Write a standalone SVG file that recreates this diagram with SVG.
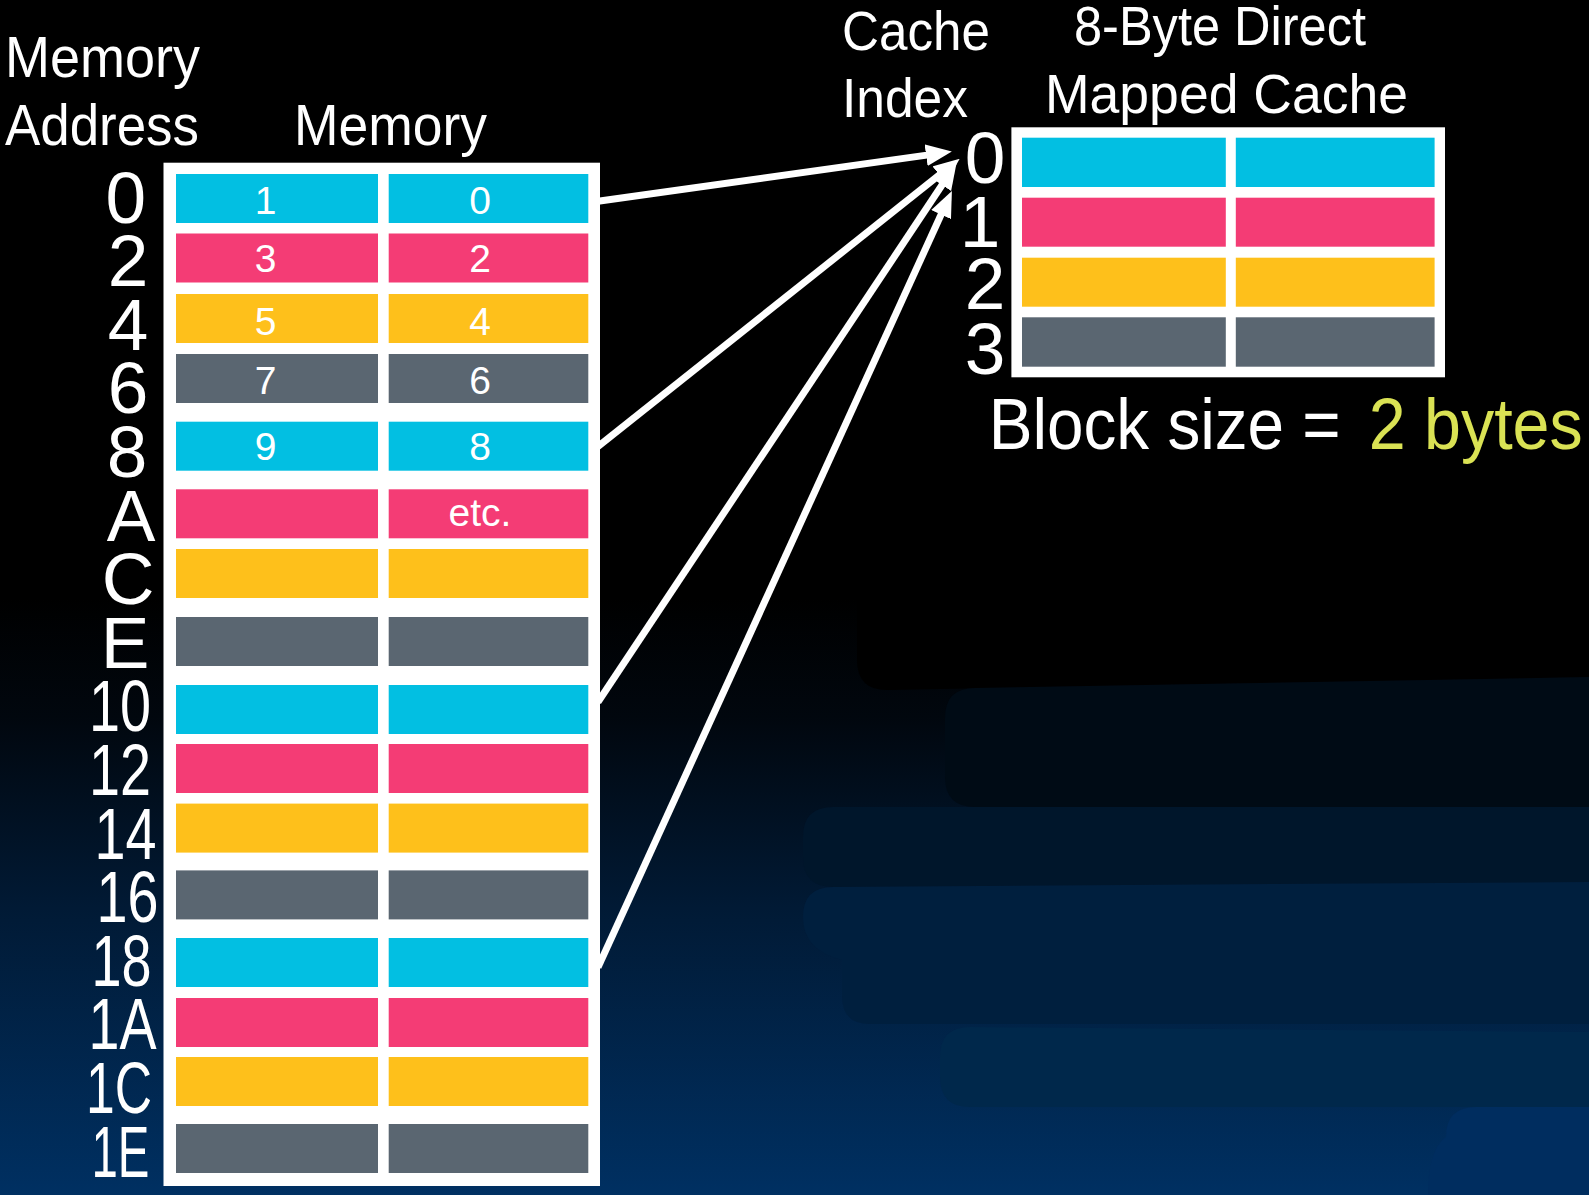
<svg xmlns="http://www.w3.org/2000/svg" width="1589" height="1195" viewBox="0 0 1589 1195">
<defs>
<linearGradient id="bg" x1="0" y1="0" x2="0" y2="1">
<stop offset="0" stop-color="#000000"/>
<stop offset="0.5" stop-color="#000000"/>
<stop offset="0.6" stop-color="#01070e"/>
<stop offset="0.76" stop-color="#011a35"/>
<stop offset="1" stop-color="#003062"/>
</linearGradient>
<marker id="ah" markerUnits="userSpaceOnUse" markerWidth="26" markerHeight="22" viewBox="0 0 24 20" refX="14" refY="10" orient="auto">
<path d="M0,0 L24,10 L0,20 Z" fill="#ffffff"/>
</marker>
<style>
.t{font-family:"Liberation Sans Narrow","Liberation Sans",Arial,sans-serif;fill:#ffffff}
.ttl{font-size:57px}
.adr{font-size:73px;text-anchor:middle}
.num{font-size:39px;text-anchor:middle}
.cy{fill:#02bfe2}
.pk{fill:#f43c75}
.yl{fill:#fec01b}
.gy{fill:#5a6671}
.fr{fill:#ffffff}
.cn{stroke:#ffffff;stroke-width:7;fill:none;marker-end:url(#ah)}
</style>
</defs>
<rect x="0" y="0" width="1589" height="1195" fill="url(#bg)"/>
<g id="bands">
<path d="M857,0 H1589 V677 L887,690 Q857,690 857,660 Z" fill="#000000"/>
<path d="M975,688 L1589,677 V807 H975 Q945,807 945,777 V718 Q945,688 975,688 Z" fill="#000b15"/>
<path d="M833,807 H1589 V887 H833 Q803,887 803,857 V837 Q803,807 833,807 Z" fill="#00162b"/>
<path d="M833,887 L1589,882 V1024 H870 Q842,1024 842,996 V960 Q803,950 803,917 Q803,887 833,887 Z" fill="#001f3e"/>
<path d="M970,1027 L1589,1032 V1107 L970,1107 Q940,1107 940,1077 V1057 Q940,1027 970,1027 Z" fill="#00284b"/>
<path d="M1476,1107 H1589 V1195 H1428 Q1428,1150 1446,1137 Q1446,1107 1476,1107 Z" fill="#002d5f"/>
</g>
<g id="titles">
<text class="t ttl" x="5" y="77" textLength="195" lengthAdjust="spacingAndGlyphs">Memory</text>
<text class="t ttl" x="5" y="145" textLength="194" lengthAdjust="spacingAndGlyphs">Address</text>
<text class="t ttl" x="294" y="145" textLength="193" lengthAdjust="spacingAndGlyphs">Memory</text>
<text class="t" font-size="56" x="842" y="50" textLength="148" lengthAdjust="spacingAndGlyphs">Cache</text>
<text class="t" font-size="56" x="842" y="117" textLength="126" lengthAdjust="spacingAndGlyphs">Index</text>
<text class="t" font-size="56" x="1074" y="45" textLength="292" lengthAdjust="spacingAndGlyphs">8-Byte Direct</text>
<text class="t" font-size="56" x="1045" y="113" textLength="363" lengthAdjust="spacingAndGlyphs">Mapped Cache</text>
</g>
<g id="memory">
<rect class="fr" x="163.5" y="162.7" width="436.5" height="1023.3"/>
<g id="row0"><rect class="cy" x="176" y="174" width="202" height="49"/><rect class="cy" x="388.7" y="174" width="199.6" height="49"/><text class="t num" x="265.7" y="214">1</text><text class="t num" x="480" y="214">0</text></g>
<g id="row2"><rect class="pk" x="176" y="233.5" width="202" height="49"/><rect class="pk" x="388.7" y="233.5" width="199.6" height="49"/><text class="t num" x="265.7" y="272">3</text><text class="t num" x="480" y="272">2</text></g>
<g id="row4"><rect class="yl" x="176" y="294" width="202" height="49"/><rect class="yl" x="388.7" y="294" width="199.6" height="49"/><text class="t num" x="265.7" y="335">5</text><text class="t num" x="480" y="335">4</text></g>
<g id="row6"><rect class="gy" x="176" y="354" width="202" height="49"/><rect class="gy" x="388.7" y="354" width="199.6" height="49"/><text class="t num" x="265.7" y="394">7</text><text class="t num" x="480" y="394">6</text></g>
<g id="row8"><rect class="cy" x="176" y="421.7" width="202" height="49"/><rect class="cy" x="388.7" y="421.7" width="199.6" height="49"/><text class="t num" x="265.7" y="460">9</text><text class="t num" x="480" y="460">8</text></g>
<g id="rowA"><rect class="pk" x="176" y="489.3" width="202" height="49"/><rect class="pk" x="388.7" y="489.3" width="199.6" height="49"/><text class="t num" x="480" y="526">etc.</text></g>
<g id="rowC"><rect class="yl" x="176" y="549" width="202" height="49"/><rect class="yl" x="388.7" y="549" width="199.6" height="49"/></g>
<g id="rowE"><rect class="gy" x="176" y="617" width="202" height="49"/><rect class="gy" x="388.7" y="617" width="199.6" height="49"/></g>
<g id="row10"><rect class="cy" x="176" y="685" width="202" height="49"/><rect class="cy" x="388.7" y="685" width="199.6" height="49"/></g>
<g id="row12"><rect class="pk" x="176" y="744" width="202" height="49"/><rect class="pk" x="388.7" y="744" width="199.6" height="49"/></g>
<g id="row14"><rect class="yl" x="176" y="803.6" width="202" height="49"/><rect class="yl" x="388.7" y="803.6" width="199.6" height="49"/></g>
<g id="row16"><rect class="gy" x="176" y="870.4" width="202" height="49"/><rect class="gy" x="388.7" y="870.4" width="199.6" height="49"/></g>
<g id="row18"><rect class="cy" x="176" y="938" width="202" height="49"/><rect class="cy" x="388.7" y="938" width="199.6" height="49"/></g>
<g id="row1A"><rect class="pk" x="176" y="998" width="202" height="49"/><rect class="pk" x="388.7" y="998" width="199.6" height="49"/></g>
<g id="row1C"><rect class="yl" x="176" y="1057" width="202" height="49"/><rect class="yl" x="388.7" y="1057" width="199.6" height="49"/></g>
<g id="row1E"><rect class="gy" x="176" y="1124" width="202" height="49"/><rect class="gy" x="388.7" y="1124" width="199.6" height="49"/></g>
</g>
<g id="addresses">
<text class="t adr" x="125.7" y="222.5">0</text>
<text class="t adr" x="128" y="286">2</text>
<text class="t adr" x="128" y="349.7">4</text>
<text class="t adr" x="128" y="413.3">6</text>
<text class="t adr" x="127" y="476.9">8</text>
<text class="t adr" x="131" y="540.5">A</text>
<text class="t adr" x="128" y="604.1">C</text>
<text class="t adr" x="125" y="667.7">E</text>
<text class="t adr" x="120" y="731.3" textLength="62" lengthAdjust="spacingAndGlyphs">10</text>
<text class="t adr" x="120" y="794.9" textLength="62" lengthAdjust="spacingAndGlyphs">12</text>
<text class="t adr" x="125.5" y="858.5" textLength="62" lengthAdjust="spacingAndGlyphs">14</text>
<text class="t adr" x="127.5" y="922.1" textLength="62" lengthAdjust="spacingAndGlyphs">16</text>
<text class="t adr" x="121.5" y="985.7" textLength="60" lengthAdjust="spacingAndGlyphs">18</text>
<text class="t adr" x="122.5" y="1049.3" textLength="68" lengthAdjust="spacingAndGlyphs">1A</text>
<text class="t adr" x="119" y="1112.9" textLength="66" lengthAdjust="spacingAndGlyphs">1C</text>
<text class="t adr" x="120.5" y="1176.5" textLength="58" lengthAdjust="spacingAndGlyphs">1E</text>
</g>
<g id="cache">
<rect class="fr" x="1011.4" y="127.3" width="433.6" height="250"/>
<g id="cache0"><rect class="cy" x="1022" y="137.7" width="203.8" height="49.3"/><rect class="cy" x="1235.8" y="137.7" width="198.8" height="49.3"/></g>
<g id="cache1"><rect class="pk" x="1022" y="197.7" width="203.8" height="49"/><rect class="pk" x="1235.8" y="197.7" width="198.8" height="49"/></g>
<g id="cache2"><rect class="yl" x="1022" y="257.7" width="203.8" height="49"/><rect class="yl" x="1235.8" y="257.7" width="198.8" height="49"/></g>
<g id="cache3"><rect class="gy" x="1022" y="317.3" width="203.8" height="49.4"/><rect class="gy" x="1235.8" y="317.3" width="198.8" height="49.4"/></g>
</g>
<g id="cache-index">
<text class="t adr" x="985" y="182.7">0</text>
<text class="t adr" x="980" y="246.7">1</text>
<text class="t adr" x="985" y="308.5">2</text>
<text class="t adr" x="985" y="374">3</text>
</g>
<g id="blocksize">
<text class="t" font-size="73" x="988.7" y="449" textLength="352" lengthAdjust="spacingAndGlyphs">Block size =</text>
<text class="t" font-size="73" x="1368.7" y="449" textLength="214" lengthAdjust="spacingAndGlyphs" style="fill:#dae254">2 bytes</text>
</g>
<g id="connectors">
<line class="cn" x1="598" y1="201.3" x2="941.1" y2="153.1"/>
<line class="cn" x1="598" y1="446.6" x2="951.2" y2="165.5"/>
<line class="cn" x1="598" y1="702" x2="950.5" y2="172.3"/>
<line class="cn" x1="598" y1="967.4" x2="947.4" y2="200.8"/>
</g>
</svg>
